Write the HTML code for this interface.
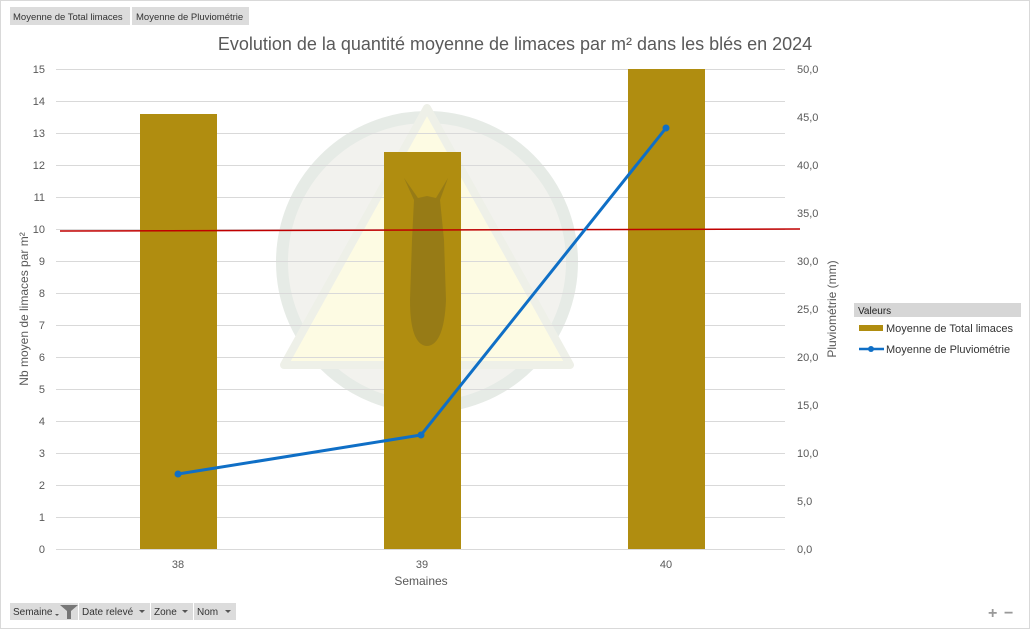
<!DOCTYPE html>
<html><head><meta charset="utf-8"><style>
body{margin:0;background:#fff;}
svg{display:block;font-family:"Liberation Sans","DejaVu Sans",sans-serif;}
</style></head><body>
<svg width="1030" height="629" viewBox="0 0 1030 629" xmlns="http://www.w3.org/2000/svg">
<rect x="0.5" y="0.5" width="1029" height="628" fill="#fff" stroke="#d9d9d9"/>
<rect x="10" y="7" width="120" height="18" fill="#dcdcdc"/>
<rect x="132" y="7" width="117" height="18" fill="#dcdcdc"/>
<text x="13" y="20" font-size="9.5" fill="#333">Moyenne de Total limaces</text>
<text x="136" y="20" font-size="9.5" fill="#333">Moyenne de Pluviométrie</text>
<text x="515" y="50" font-size="18" fill="#595959" text-anchor="middle">Evolution de la quantité moyenne de limaces par m² dans les blés en 2024</text>
<circle cx="427" cy="262" r="145" fill="#f2f2ee" stroke="#e6ebe6" stroke-width="12"/>
<polygon points="427,108 570,365 284,365" fill="#fdfbe3" stroke="#eef0e8" stroke-width="8" stroke-linejoin="round"/>
<g stroke="#d9d9d9" stroke-width="1">
<line x1="56" y1="69.5" x2="785" y2="69.5"/><line x1="56" y1="101.5" x2="785" y2="101.5"/><line x1="56" y1="133.5" x2="785" y2="133.5"/><line x1="56" y1="165.5" x2="785" y2="165.5"/><line x1="56" y1="197.5" x2="785" y2="197.5"/><line x1="56" y1="229.5" x2="785" y2="229.5"/><line x1="56" y1="261.5" x2="785" y2="261.5"/><line x1="56" y1="293.5" x2="785" y2="293.5"/><line x1="56" y1="325.5" x2="785" y2="325.5"/><line x1="56" y1="357.5" x2="785" y2="357.5"/><line x1="56" y1="389.5" x2="785" y2="389.5"/><line x1="56" y1="421.5" x2="785" y2="421.5"/><line x1="56" y1="453.5" x2="785" y2="453.5"/><line x1="56" y1="485.5" x2="785" y2="485.5"/><line x1="56" y1="517.5" x2="785" y2="517.5"/><line x1="56" y1="549.5" x2="785" y2="549.5"/>
</g>
<g fill="#b08d10">
<rect x="140" y="114" width="77" height="435"/>
<rect x="384" y="152" width="77" height="397"/>
<rect x="628" y="69" width="77" height="480"/>
</g>
<path d="M404,178 L418,198 L427,196 L436,198 L448,178 L440,200 L444,240 L446,300 Q444,345 427,346 Q410,345 410,300 L412,240 L414,200 Z" fill="#8f7518" opacity="0.75"/>
<line x1="60" y1="231" x2="800" y2="229" stroke="#c00000" stroke-width="1.5"/>
<polyline points="178,474 421,435 666,128" fill="none" stroke="#0f6fc6" stroke-width="3"/>
<g fill="#0f6fc6"><circle cx="178" cy="474" r="3.5"/><circle cx="421" cy="435" r="3.5"/><circle cx="666" cy="128" r="3.5"/></g>
<g font-size="11" fill="#595959" text-anchor="end">
<text x="45" y="73">15</text><text x="45" y="105">14</text><text x="45" y="137">13</text><text x="45" y="169">12</text><text x="45" y="201">11</text><text x="45" y="233">10</text><text x="45" y="265">9</text><text x="45" y="297">8</text><text x="45" y="329">7</text><text x="45" y="361">6</text><text x="45" y="393">5</text><text x="45" y="425">4</text><text x="45" y="457">3</text><text x="45" y="489">2</text><text x="45" y="521">1</text><text x="45" y="553">0</text>
</g>
<g font-size="11" fill="#595959">
<text x="797" y="73">50,0</text><text x="797" y="121">45,0</text><text x="797" y="169">40,0</text><text x="797" y="217">35,0</text><text x="797" y="265">30,0</text><text x="797" y="313">25,0</text><text x="797" y="361">20,0</text><text x="797" y="409">15,0</text><text x="797" y="457">10,0</text><text x="797" y="505">5,0</text><text x="797" y="553">0,0</text>
</g>
<g font-size="11" fill="#595959" text-anchor="middle">
<text x="178" y="568">38</text><text x="422" y="568">39</text><text x="666" y="568">40</text>
</g>
<text x="421" y="585" font-size="12" fill="#595959" text-anchor="middle">Semaines</text>
<text transform="translate(28,309) rotate(-90)" font-size="12" fill="#595959" text-anchor="middle">Nb moyen de limaces par m²</text>
<text transform="translate(836,309) rotate(-90)" font-size="12" fill="#595959" text-anchor="middle">Pluviométrie (mm)</text>
<rect x="854" y="303" width="167" height="14" fill="#d6d6d6"/>
<text x="858" y="314" font-size="10" fill="#222">Valeurs</text>
<rect x="859" y="325" width="24" height="6" fill="#b08d10"/>
<text x="886" y="332" font-size="11" fill="#333">Moyenne de Total limaces</text>
<line x1="859" y1="349" x2="884" y2="349" stroke="#0f6fc6" stroke-width="2.5"/>
<circle cx="871" cy="349" r="3" fill="#0f6fc6"/>
<text x="886" y="353" font-size="11" fill="#333">Moyenne de Pluviométrie</text>
<rect x="10" y="603" width="68" height="17" fill="#dcdcdc"/>
<rect x="79" y="603" width="71" height="17" fill="#dcdcdc"/>
<rect x="151" y="603" width="42" height="17" fill="#dcdcdc"/>
<rect x="194" y="603" width="42" height="17" fill="#dcdcdc"/>
<g font-size="10" fill="#333">
<text x="13" y="615">Semaine</text><text x="82" y="615">Date relevé</text><text x="154" y="615">Zone</text><text x="197" y="615">Nom</text>
</g>
<polygon points="60,605 78,605 71,611 71,619 67,619 67,611" fill="#777"/>
<g fill="#555"><polygon points="139,610 145,610 142,613"/><polygon points="182,610 188,610 185,613"/><polygon points="225,610 231,610 228,613"/><polygon points="55,614 59,614 57,616"/></g>
<text x="988" y="618" font-size="16" fill="#999" font-weight="bold">+</text>
<text x="1004" y="618" font-size="16" fill="#999" font-weight="bold">−</text>
</svg>
</body></html>
